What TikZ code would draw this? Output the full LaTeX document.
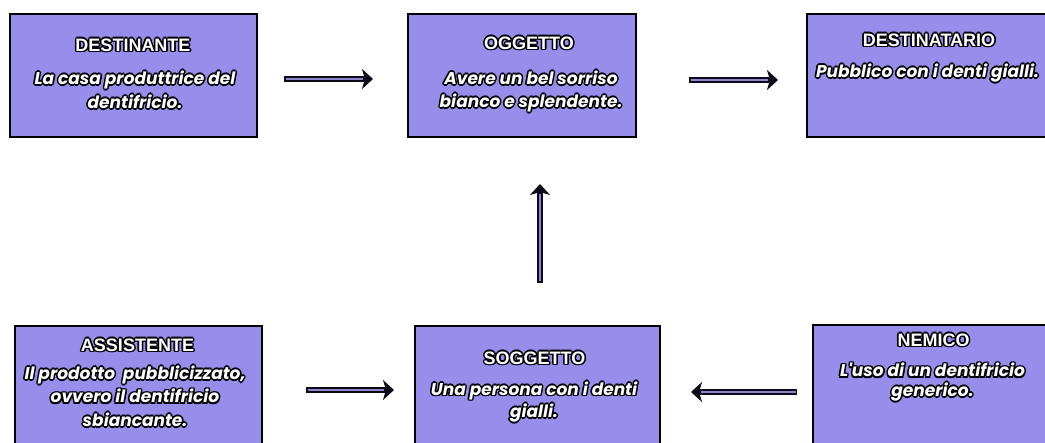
\documentclass[tikz,border=0pt]{standalone}
\usepackage{fontspec}
\usetikzlibrary{arrows.meta}
\newfontface\headW{Liberation Sans Bold}
\newfontface\bodyW{Poppins Bold Italic}
\definecolor{boxfill}{RGB}{152,141,234}
\definecolor{shaftin}{RGB}{140,132,205}
\definecolor{ink}{RGB}{12,10,24}
\definecolor{rim}{RGB}{3,2,6}
\definecolor{letter}{RGB}{255,255,254}
% white lettering with a dark outline made of shifted copies
\newcommand\kcopy[3]{\rlap{\kern#1\raise#2\hbox{\textcolor{rim}{#3}}}}
\newcommand\outl[1]{\leavevmode
  \kcopy{1.6pt}{0pt}{#1}\kcopy{-1.6pt}{0pt}{#1}%
  \kcopy{0pt}{1.6pt}{#1}\kcopy{0pt}{-1.6pt}{#1}%
  \kcopy{1.15pt}{1.15pt}{#1}\kcopy{-1.15pt}{1.15pt}{#1}%
  \kcopy{1.15pt}{-1.15pt}{#1}\kcopy{-1.15pt}{-1.15pt}{#1}%
  \textcolor{letter}{#1}}
\tikzset{
  card/.style={draw=black, line width=1.6pt, fill=boxfill},
  head/.style={font=\headW\fontsize{18}{20}\selectfont, inner sep=0pt, anchor=base},
  body/.style={font=\bodyW\fontsize{17}{23}\selectfont, align=center, inner sep=0pt, anchor=base},
  shaftout/.style={draw=ink, line width=5.5pt, -{Stealth[length=11pt,width=20pt,inset=3pt]}},
  shaftcore/.style={draw=shaftin, line width=1.8pt}
}
\begin{document}
\begin{tikzpicture}[x=1pt,y=-1pt]
\useasboundingbox (0,0) rectangle (1045,443);
\fill[white] (0,0) rectangle (1045,443);

% boxes
\draw[card] (10,14) rectangle (257,137);
\draw[card] (408,14) rectangle (636,137);
\draw[card] (807,14) rectangle (1055,137);
\draw[card] (15,326) rectangle (262,455);
\draw[card] (415,326) rectangle (660,455);
\draw[card] (813,325) rectangle (1055,455);

% titles and descriptions (body nodes sit on the baseline of their last line)
\node[head] (tdest) at (133,51.3) {\outl{DESTINANTE}};
\node[body, font=\bodyW\fontsize{17}{24}\selectfont] (bdest) at (135,108.5) {\outl{La casa produttrice del}\\\outl{dentifricio.}};

\node[head] (togg) at (529,49.3) {\outl{OGGETTO}};
\node[body] (bogg) at (531,107.5) {\outl{Avere un bel sorriso}\\\outl{bianco e splendente.}};

\node[head] (tdst) at (929,46.3) {\outl{DESTINATARIO}};
\node[body] (bdst) at (927.5,77.5) {\outl{Pubblico con i denti gialli.}};

\node[head] (tass) at (137.5,351.3) {\outl{ASSISTENTE}};
\node[body, font=\bodyW\fontsize{17}{23.5}\selectfont] (bass) at (135,426.5) {\outl{Il prodotto\ \ pubblicizzato,}\\\outl{ovvero il dentifricio}\\\outl{sbiancante.}};

\node[head] (tsog) at (534.5,364.3) {\outl{SOGGETTO}};
\node[body, font=\bodyW\fontsize{17}{21}\selectfont] (bsog) at (534,417.5) {\outl{Una persona con i denti}\\\outl{gialli.}};

\node[head] (tnem) at (933.5,346.3) {\outl{NEMICO}};
\node[body, font=\bodyW\fontsize{17}{19.5}\selectfont] (bnem) at (932.5,396.5) {\outl{L'uso di un dentifricio}\\\outl{generico.}};

% connector end points
\coordinate (a1s) at (284,79);  \coordinate (a1e) at (373,79);
\coordinate (a2s) at (689,80);  \coordinate (a2e) at (778,80);
\coordinate (a3s) at (540,283); \coordinate (a3e) at (540,184);
\coordinate (a4s) at (306,390); \coordinate (a4e) at (394,390);
\coordinate (a5s) at (797,392); \coordinate (a5e) at (691,392);

% hollow arrows: dark outline with a lighter core
\foreach \s/\e in {a1s/a1e, a2s/a2e, a3s/a3e, a4s/a4e, a5s/a5e}{
  \draw[shaftout] (\s) -- (\e);
  \draw[shaftcore, shorten <=1.5pt, shorten >=10pt] (\s) -- (\e);
}
\end{tikzpicture}
\end{document}
